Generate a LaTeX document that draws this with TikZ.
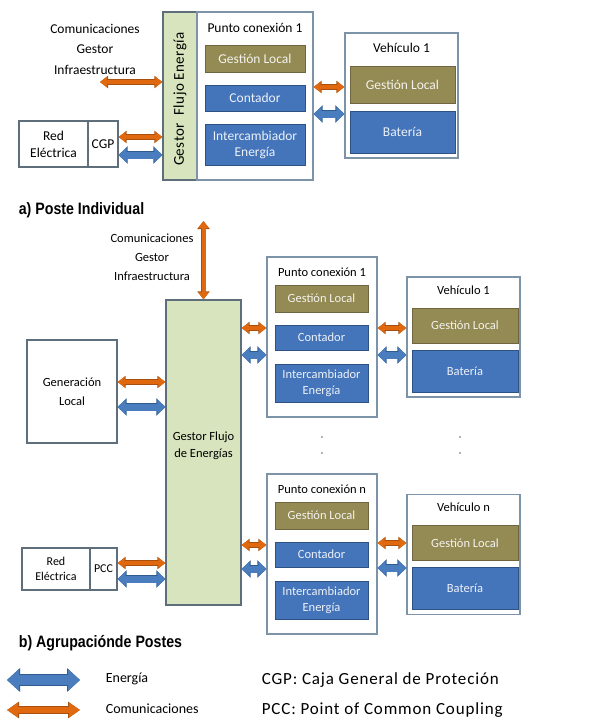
\documentclass[tikz,border=0pt]{standalone}
\usepackage{fontspec}
\setmainfont{Carlito}
\newfontfamily\capfont[FakeStretch=0.86]{Liberation Sans}
\newfontfamily\gfefont[LetterSpace=3]{Carlito}
\newfontfamily\deffont[LetterSpace=5]{Carlito}
\usetikzlibrary{arrows.meta,positioning,calc}

\definecolor{gfegreen}{HTML}{D7E4BD}
\definecolor{boxgray}{HTML}{5E6E7A}
\definecolor{puntoedge}{HTML}{7C93A8}
\definecolor{olive}{HTML}{948A54}
\definecolor{olivedge}{HTML}{6E6640}
\definecolor{modblue}{HTML}{4474BA}
\definecolor{modedge}{HTML}{2E5283}
\definecolor{comorange}{HTML}{E0690F}
\definecolor{comdark}{HTML}{A9500F}
\definecolor{enblue}{HTML}{4A7DBE}
\definecolor{endark}{HTML}{2F5A8E}

\begin{document}
\begin{tikzpicture}
  [
  x=1pt, y=-1pt,
  font=\fontsize{13.5}{19}\selectfont, line width=1pt,
  gestor/.style={rectangle, draw=boxgray, fill=gfegreen, line width=1.3pt, align=center},
  punto/.style={rectangle, draw=puntoedge, fill=white, line width=1.3pt, minimum width=113pt},
  plain/.style={rectangle, draw=boxgray, fill=white, line width=1.3pt, align=center},
  glocal/.style={rectangle, draw=olivedge, fill=olive, text=white!90!olive, line width=0.8pt, align=center},
  module/.style={rectangle, draw=modedge, fill=modblue, text=white!90!modblue, line width=0.8pt, align=center},
  com/.style={draw=comorange, line width=4pt, {Triangle[length=7pt,width=10pt]}-{Triangle[length=7pt,width=10pt]},
    preaction={draw=comdark, line width=5.4pt, {Triangle[length=8pt,width=12pt]}-{Triangle[length=8pt,width=12pt]}}},
  energy/.style={draw=enblue, line width=7pt, {Triangle[length=8pt,width=15pt]}-{Triangle[length=8pt,width=15pt]},
    preaction={draw=endark, line width=8.6pt, {Triangle[length=9pt,width=17pt]}-{Triangle[length=9pt,width=17pt]}}},
  comleg/.style={draw=comorange, line width=6pt, {Triangle[length=11pt,width=14pt]}-{Triangle[length=11pt,width=14pt]},
    preaction={draw=comdark, line width=7.4pt, {Triangle[length=12pt,width=16pt]}-{Triangle[length=12pt,width=16pt]}}},
  energyleg/.style={draw=enblue, line width=10pt, {Triangle[length=12pt,width=21pt]}-{Triangle[length=12pt,width=21pt]},
    preaction={draw=endark, line width=11.6pt, {Triangle[length=13pt,width=23pt]}-{Triangle[length=13pt,width=23pt]}}},
  caption/.style={font=\capfont\bfseries\fontsize{16.5}{18}\selectfont, anchor=west}
  ]
\useasboundingbox (0,0) rectangle (613,724);

% a) poste individual
\node[gestor, minimum width=34pt, minimum height=168pt] (gfeA) at (180,96) {};
\node[rotate=90, font=\gfefont\fontsize{15}{17}\selectfont] (gfeAt) at (180,99) {Gestor\hspace{0.5em}Flujo Energía};
\node[punto, minimum width=116pt, minimum height=168pt] (pcA) at (255,96) {};
\node (pcAt) at (255,28) {Punto conexión 1};
\node[glocal, minimum width=100pt, minimum height=27pt] (glA) at (255,58.5) {Gestión Local};
\node[module, minimum width=100pt, minimum height=26pt] (ctA) at (255,98) {Contador};
\node[module, minimum width=100pt, minimum height=41pt, font=\fontsize{13.5}{16}\selectfont] (ieA) at (255,144.5) {Intercambiador\\Energía};

\node[punto, minimum height=125pt] (vhA) at (401.5,95.5) {};
\node (vhAt) at (401.5,48) {Vehículo 1};
\node[glocal, minimum width=105pt, minimum height=37pt] (gvA) at (402.5,84.5) {Gestión Local};
\node[module, minimum width=105pt, minimum height=42pt] (btA) at (402.5,132) {Batería};

\node[plain, minimum width=69pt, minimum height=46pt, font=\fontsize{13.5}{17}\selectfont] (redA) at (53.5,144) {Red\\Eléctrica};
\node[plain, minimum width=30pt, minimum height=46pt] (cgp) at (103,144) {CGP};

\node[align=center, font=\fontsize{13.5}{20.5}\selectfont] (comAt) at (95,49) {Comunicaciones\\Gestor\\Infraestructura};
\coordinate (comAend) at (100,82);

\draw[com] (comAend) -- (comAend -| gfeA.west);
\draw[com] (cgp.east |- 0,137) -- (gfeA.west |- 0,137);
\draw[energy] (cgp.east |- 0,155) -- (gfeA.west |- 0,155);
\draw[com] (pcA.east |- 0,87) -- (vhA.west |- 0,87);
\draw[energy] (pcA.east |- 0,114) -- (vhA.west |- 0,114);

\node[caption] (capA) at (15,210) {a) Poste Individual};

% b) agrupacion de postes
\node[gestor, minimum width=75pt, minimum height=305pt] (gfeB) at (203.5,452.5) {};
\node[align=center, font=\fontsize{12.5}{17}\selectfont] (gfeBt) at (203.5,446) {Gestor Flujo\\de Energías};
\node[align=center, font=\fontsize{12.5}{19}\selectfont] (comBt) at (152,257) {Comunicaciones\\Gestor\\Infraestructura};
\coordinate (comBend) at (203.5,221);
\draw[com] (comBend) -- (gfeB.north);

\node[plain, minimum width=90pt, minimum height=103pt, font=\fontsize{12.5}{19}\selectfont] (genB) at (72,391.5) {Generación\\Local};
\draw[com] (genB.east |- 0,382) -- (gfeB.west |- 0,382);
\draw[energy] (genB.east |- 0,407) -- (gfeB.west |- 0,407);

\node[plain, minimum width=68pt, minimum height=42pt, font=\fontsize{12}{15}\selectfont] (redB) at (56,569) {Red\\Eléctrica};
\node[plain, minimum width=27pt, minimum height=42pt, font=\fontsize{12}{15}\selectfont] (pcc) at (103.5,569) {PCC};
\draw[com] (pcc.east |- 0,563) -- (gfeB.west |- 0,563);
\draw[energy] (pcc.east |- 0,579) -- (gfeB.west |- 0,579);

% punto de conexion y vehiculo: 1 y n
\foreach \n/\t/\yo/\yv in {1/1/0/0, n/n/217/217.5} {
  \begin{scope}[yshift=-\yo pt, font=\fontsize{12.5}{16}\selectfont]
  \node[punto, minimum width=110pt, minimum height=160pt] (pcB\n) at (322,337) {};
  \node (pcB\n t) at (322,272) {Punto conexión \t};
  \node[glocal, minimum width=93pt, minimum height=27pt] (glB\n) at (321.5,298.5) {Gestión Local};
  \node[module, minimum width=93pt, minimum height=25pt] (ctB\n) at (321.5,337.5) {Contador};
  \node[module, minimum width=93pt, minimum height=38pt] (ieB\n) at (321.5,383) {Intercambiador\\Energía};
  \end{scope}
  \begin{scope}[yshift=-\yv pt, font=\fontsize{12.5}{16}\selectfont]
  \node[punto, minimum width=113pt, minimum height=120pt] (vhB\n) at (463.5,337) {};
  \node (vhB\n t) at (463.5,290) {Vehículo \t};
  \node[glocal, minimum width=106pt, minimum height=35pt] (gvB\n) at (465,325.5) {Gestión Local};
  \node[module, minimum width=106pt, minimum height=42pt] (btB\n) at (465,371) {Batería};
  \end{scope}
}

\draw[com] (gfeB.east |- 0,328) -- (pcB1.west |- 0,328);
\draw[energy] (gfeB.east |- 0,355) -- (pcB1.west |- 0,355);
\draw[com] (pcB1.east |- 0,328) -- (vhB1.west |- 0,328);
\draw[energy] (pcB1.east |- 0,355) -- (vhB1.west |- 0,355);
\draw[com] (gfeB.east |- 0,545) -- (pcBn.west |- 0,545);
\draw[energy] (gfeB.east |- 0,569) -- (pcBn.west |- 0,569);
\draw[com] (pcBn.east |- 0,543) -- (vhBn.west |- 0,543);
\draw[energy] (pcBn.east |- 0,568) -- (vhBn.west |- 0,568);

\foreach \d in {437,453} {
  \fill[black!60] (322,\d) circle (0.9pt);
  \fill[black!60] (460,\d) circle (0.9pt);
}

\node[caption] (capB) at (15,643) {b) Agrupaciónde Postes};

% leyenda
\coordinate (legEa) at (7,680);
\coordinate (legEb) at (80,680);
\coordinate (legCa) at (7,710);
\coordinate (legCb) at (80,710);
\draw[energyleg] (legEa) -- (legEb);
\draw[comleg] (legCa) -- (legCb);
\node[anchor=west, font=\fontsize{14}{16}\selectfont] (legE) at (102,679) {Energía};
\node[anchor=west, font=\fontsize{14}{16}\selectfont] (legC) at (102,709) {Comunicaciones};
\node[anchor=west, font=\deffont\fontsize{17}{19}\selectfont] (defCGP) at (258,680) {CGP: Caja General de Proteción};
\node[anchor=west, font=\deffont\fontsize{17}{19}\selectfont] (defPCC) at (258,710) {PCC: Point of Common Coupling};

\end{tikzpicture}
\end{document}
